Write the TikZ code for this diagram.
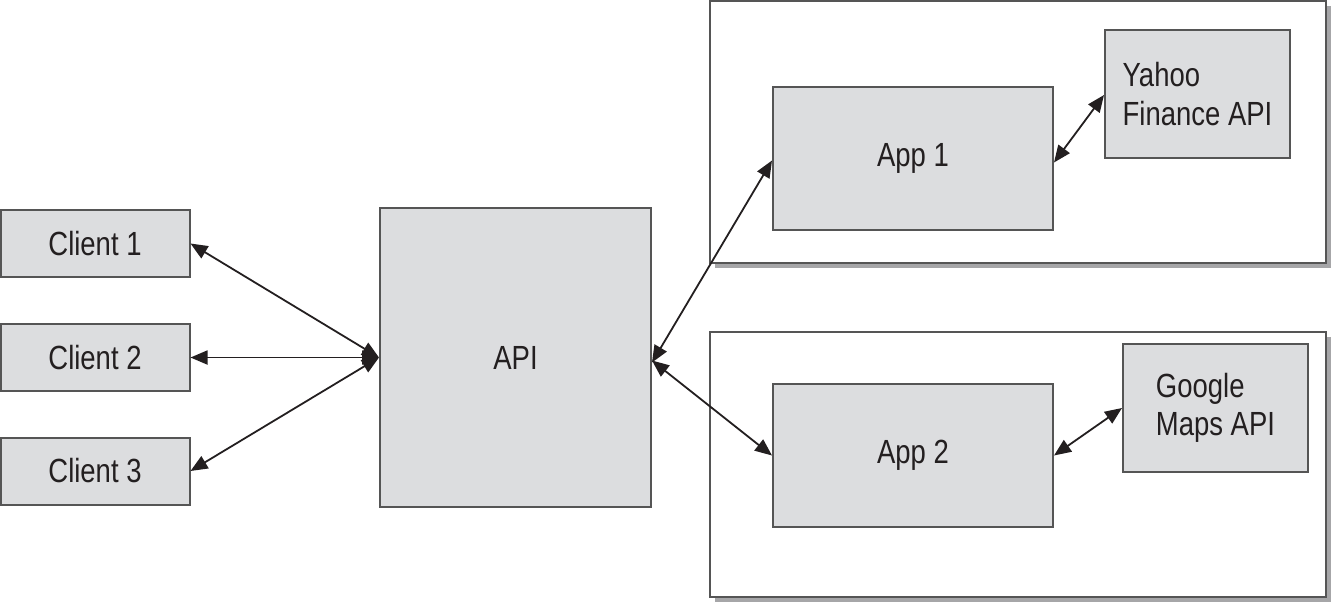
\documentclass[tikz,border=0pt]{standalone}
\usepackage{fontspec}
\setmainfont{Liberation Sans}[FakeStretch=0.82]
\usetikzlibrary{arrows.meta,shadows}
\definecolor{boxfill}{HTML}{DCDDDF}
\definecolor{boxline}{HTML}{555555}
\definecolor{shadowc}{HTML}{A6A6A8}
\definecolor{ink}{HTML}{231F20}
\begin{document}
\begin{tikzpicture}[x=1pt,y=-1pt,
  box/.style={draw=boxline,fill=boxfill,line width=2pt,inner sep=0pt,
    font=\fontsize{33.5pt}{38.5pt}\selectfont,text=ink},
  outer/.style={draw=boxline,fill=white,line width=2pt,inner sep=0pt,
    drop shadow={shadow xshift=5pt,shadow yshift=-5pt,fill=shadowc,opacity=1}},
  link/.style={line width=1.8pt,draw=ink,
    {Triangle[length=17pt,width=14pt]}-{Triangle[length=17pt,width=14pt]}}]
\useasboundingbox (0,0) rectangle (1331,605);
% outer containers
\node[outer,minimum width=616pt,minimum height=262pt] (o1) at (1018,131.5) {};
\node[outer,minimum width=616pt,minimum height=265pt] (o2) at (1018,464.5) {};
% clients
\node[box,minimum width=189pt,minimum height=67pt] (c1) at (95,243.5) {Client 1};
\node[box,minimum width=189pt,minimum height=67pt] (c2) at (95,357.5) {Client 2};
\node[box,minimum width=189pt,minimum height=67pt] (c3) at (95,471) {Client 3};
% API
\node[box,minimum width=271pt,minimum height=299pt] (api) at (515.5,357.5) {API};
% apps
\node[box,minimum width=280pt,minimum height=143pt] (a1) at (913,158.5) {App 1};
\node[box,minimum width=280pt,minimum height=143pt] (a2) at (913,455.5) {App 2};
% external APIs
\node[box,minimum width=185pt,minimum height=128pt,align=left] (y) at (1197.5,94) {Yahoo\\Finance API};
\node[box,minimum width=185pt,minimum height=128pt,align=left] (g) at (1215.5,408) {Google\\Maps API};
% connectors
\coordinate (apiw) at (api.west);
\draw[link] (c1.east) -- (apiw);
\draw[link] (c2.east) -- (apiw);
\draw[link] (c3.east) -- (apiw);
\draw[link] ([yshift=-5pt]api.east) -- ([yshift=-2pt]a1.west);
\draw[link] ([yshift=-3pt]api.east) -- (a2.west);
\draw[link] ([yshift=-4pt]a1.east) -- ([yshift=-1pt]y.west);
\draw[link] (a2.east) -- (g.west);
\end{tikzpicture}
\end{document}
